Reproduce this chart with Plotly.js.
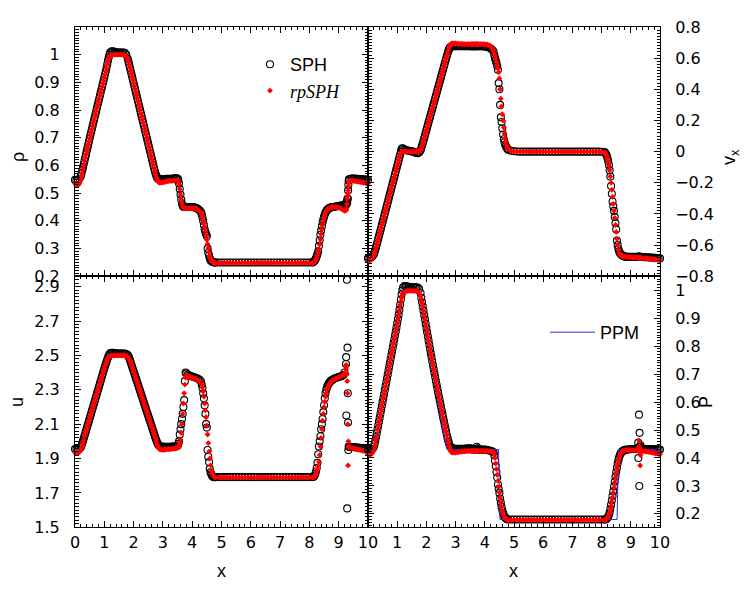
<!DOCTYPE html>
<html>
<head>
<meta charset="utf-8">
<script src="https://cdn.plot.ly/plotly-3.0.1.min.js"></script>
<style>html,body{margin:0;padding:0;background:#fff;}#chart{width:747px;height:592px;}</style>
</head>
<body>
<div id="chart"></div>
<script>
// ---- particle positions (shared by SPH and rpSPH samples) ----
const xPos = [
0,0.05,0.1,0.15,0.2,
0.225,0.25,0.275,0.3,0.325,0.35,0.375,0.4,0.425,0.45,0.475,0.5,0.525,0.55,0.575,0.6,0.625,0.65,0.675,0.7,0.725,0.75,0.775,0.8,0.825,0.85,0.875,0.9,0.925,0.95,0.975,1.0,1.025,1.05,1.075,1.1,1.125,1.15,1.175,1.2,
1.25,1.3,1.35,1.4,1.45,1.5,1.55,1.6,1.65,1.7,1.75,1.8,
1.825,1.85,1.875,1.9,1.925,1.95,1.975,2.0,2.025,2.05,2.075,2.1,2.125,2.15,2.175,2.2,2.225,2.25,2.275,2.3,2.325,2.35,2.375,2.4,2.425,2.45,2.475,2.5,2.525,2.55,2.575,2.6,2.625,2.65,2.675,2.7,2.725,2.75,2.775,2.8,2.825,2.85,2.875,2.9,
2.95,3.0,3.05,3.1,3.15,3.2,3.25,3.3,3.35,3.4,3.45,3.5,
3.525,3.55,3.575,3.6,3.625,3.65,3.675,3.7,3.725,3.75,3.775,3.8,
3.85,3.9,3.95,4.0,4.05,4.1,4.15,4.2,4.25,4.3,
4.325,4.35,4.375,4.4,4.425,4.45,4.475,4.5,4.525,4.55,4.575,4.6,4.625,4.65,4.675,4.7,4.725,4.75,4.775,4.8,
4.9,5.0,5.1,5.2,5.3,5.4,5.5,5.6,5.7,5.8,5.9,6.0,6.1,6.2,6.3,6.4,6.5,6.6,6.7,6.8,6.9,7.0,7.1,7.2,7.3,7.4,7.5,7.6,7.7,7.8,7.9,8.0,8.1,
8.125,8.15,8.175,8.2,8.225,8.25,8.275,8.3,8.325,8.35,8.375,8.4,8.425,8.45,8.475,8.5,8.525,8.55,8.575,8.6,8.625,8.65,8.675,8.7,8.725,8.75,8.775,8.8,
8.85,8.9,8.95,9.0,9.05,9.1,9.15,9.2,9.25,
9.255,9.26,9.28,9.29,9.3,9.31,9.32,9.33,9.34,
9.35,9.4,9.45,9.5,9.55,9.6,9.65,9.7,9.75,9.8,9.85,9.9,9.95,10
];

// ---- density rho ----
const rhoSPH = [
0.548,0.547,0.547,0.552,0.562,
0.572,0.583,0.594,0.605,0.617,0.629,0.64,0.652,0.663,0.675,0.686,0.698,0.709,0.72,0.731,0.742,0.753,0.764,0.775,0.786,0.797,0.808,0.819,0.83,0.841,0.852,0.863,0.874,0.885,0.896,0.907,0.918,0.929,0.94,0.952,0.965,0.978,0.99,1.0,1.008,
1.012,1.012,1.01,1.009,1.008,1.008,1.008,1.008,1.008,1.007,1.0,0.985,
0.975,0.964,0.953,0.942,0.931,0.92,0.909,0.898,0.887,0.876,0.865,0.854,0.843,0.832,0.821,0.81,0.799,0.788,0.777,0.766,0.755,0.744,0.733,0.722,0.711,0.70,0.689,0.678,0.667,0.656,0.645,0.634,0.623,0.612,0.601,0.59,0.58,0.571,0.563,0.557,0.553,0.551,0.55,0.55,
0.55,0.55,0.551,0.552,0.552,0.552,0.552,0.552,0.553,0.554,0.555,0.553,
0.548,0.535,0.515,0.495,0.477,0.463,0.455,0.451,0.45,0.45,0.45,0.45,
0.45,0.45,0.45,0.45,0.449,0.448,0.446,0.443,0.438,0.432,
0.425,0.413,0.40,0.385,0.37,0.36,0.352,0.345,0.30,0.285,0.275,0.265,0.258,0.255,0.253,0.252,0.251,0.25,0.25,0.25,
0.25,0.25,0.25,0.25,0.25,0.25,0.25,0.25,0.25,0.25,0.25,
0.25,0.25,0.25,0.25,0.25,0.25,0.25,0.25,0.25,0.25,0.25,
0.25,0.25,0.25,0.25,0.25,0.25,0.25,0.25,0.25,0.25,0.25,
0.251,0.253,0.256,0.26,0.265,0.272,0.28,0.29,0.31,0.33,0.35,0.365,0.38,0.395,0.405,0.415,0.423,0.43,0.435,0.439,0.442,0.444,0.446,0.447,0.448,0.449,0.45,0.45,
0.451,0.452,0.453,0.454,0.455,0.455,0.456,0.458,0.46,
0.458,0.465,0.47,0.465,0.48,0.48,0.51,0.53,0.545,
0.55,0.552,0.553,0.553,0.553,0.552,0.552,0.551,0.551,0.55,0.55,0.549,0.549,0.548
];
const rhoRP = [
0.535,0.53,0.528,0.535,0.55,
0.562,0.574,0.587,0.6,0.617,0.629,0.64,0.652,0.663,0.675,0.686,0.698,0.709,0.72,0.731,0.742,0.753,0.764,0.775,0.786,0.797,0.808,0.819,0.83,0.841,0.852,0.863,0.874,0.885,0.896,0.907,0.918,0.929,0.94,0.952,0.965,0.975,0.984,0.991,0.995,
0.998,1.0,1.0,1.0,1.0,1.0,1.0,1.0,0.999,0.997,0.992,0.983,
0.974,0.963,0.953,0.942,0.931,0.92,0.909,0.898,0.887,0.876,0.865,0.854,0.843,0.832,0.821,0.81,0.799,0.788,0.777,0.766,0.755,0.744,0.733,0.722,0.711,0.70,0.689,0.678,0.667,0.656,0.645,0.634,0.623,0.612,0.601,0.59,0.578,0.567,0.557,0.549,0.544,0.54,0.538,0.538,
0.538,0.539,0.54,0.542,0.543,0.544,0.545,0.545,0.545,0.546,0.546,0.545,
0.543,0.532,0.515,0.495,0.477,0.462,0.452,0.447,0.445,0.445,0.445,0.445,
0.445,0.445,0.445,0.445,0.445,0.444,0.443,0.44,0.436,0.43,
0.423,0.413,0.402,0.39,0.376,0.362,0.347,0.332,0.317,0.302,0.288,0.275,0.265,0.258,0.254,0.251,0.25,0.249,0.248,0.248,
0.248,0.248,0.248,0.248,0.248,0.248,0.248,0.248,0.248,0.248,0.248,
0.248,0.248,0.248,0.248,0.248,0.248,0.248,0.248,0.248,0.248,0.248,
0.248,0.248,0.248,0.248,0.248,0.248,0.248,0.248,0.248,0.248,0.248,
0.249,0.25,0.252,0.255,0.26,0.266,0.274,0.284,0.298,0.315,0.333,0.352,0.37,0.387,0.401,0.413,0.422,0.429,0.435,0.439,0.442,0.444,0.446,0.447,0.448,0.449,0.45,0.45,
0.45,0.45,0.449,0.448,0.446,0.444,0.44,0.436,0.438,
0.44,0.445,0.46,0.48,0.49,0.50,0.51,0.525,0.54,
0.543,0.545,0.545,0.545,0.544,0.543,0.542,0.541,0.54,0.539,0.538,0.537,0.536,0.535
];

// ---- velocity v_x ----
const vxSPH = [
-0.685,-0.685,-0.68,-0.672,-0.658,
-0.645,-0.63,-0.613,-0.596,-0.578,-0.56,-0.542,-0.524,-0.506,-0.488,-0.47,-0.452,-0.434,-0.416,-0.398,-0.38,-0.362,-0.344,-0.326,-0.308,-0.29,-0.272,-0.254,-0.236,-0.218,-0.2,-0.182,-0.164,-0.146,-0.128,-0.11,-0.092,-0.074,-0.056,-0.038,-0.02,0.0,0.015,0.022,0.02,
0.014,0.01,0.007,0.005,0.003,0.002,0.0,-0.004,-0.008,-0.01,-0.006,0.008,
0.022,0.038,0.054,0.07,0.087,0.104,0.121,0.138,0.155,0.172,0.189,0.206,0.223,0.24,0.257,0.274,0.291,0.308,0.325,0.342,0.359,0.376,0.393,0.41,0.427,0.444,0.461,0.478,0.495,0.512,0.529,0.546,0.563,0.58,0.597,0.614,0.63,0.645,0.657,0.666,0.671,0.674,0.675,0.676,
0.676,0.676,0.676,0.676,0.676,0.676,0.676,0.676,0.676,0.676,0.676,0.676,
0.676,0.676,0.676,0.676,0.676,0.676,0.676,0.676,0.676,0.676,0.676,0.676,
0.676,0.676,0.675,0.675,0.674,0.672,0.668,0.662,0.654,0.642,
0.62,0.60,0.585,0.57,0.55,0.525,0.44,0.40,0.30,0.22,0.19,0.15,0.11,0.08,0.06,0.045,0.035,0.025,0.018,0.012,
0.006,0.003,0.001,
0,0,0,0,0,0,0,0,0,0,0,0,0,0,
0,0,0,0,0,0,0,0,0,0,0,0,0,0,
-0.001,-0.003,
-0.008,-0.015,-0.025,-0.04,-0.06,-0.085,-0.12,-0.16,-0.22,-0.27,-0.32,-0.35,-0.38,-0.42,-0.46,-0.5,-0.57,-0.6,-0.625,-0.64,-0.65,-0.655,-0.66,-0.665,-0.668,-0.67,-0.672,-0.674,
-0.675,-0.675,-0.675,-0.675,-0.675,-0.675,-0.675,-0.675,-0.675,
-0.675,-0.675,-0.675,-0.675,-0.675,-0.675,-0.675,-0.675,-0.675,
-0.676,-0.676,-0.677,-0.677,-0.678,-0.678,-0.679,-0.679,-0.68,-0.681,-0.682,-0.683,-0.684,-0.685
];
const vxRP = [
-0.70,-0.70,-0.695,-0.683,-0.665,
-0.65,-0.633,-0.613,-0.596,-0.578,-0.56,-0.542,-0.524,-0.506,-0.488,-0.47,-0.452,-0.434,-0.416,-0.398,-0.38,-0.362,-0.344,-0.326,-0.308,-0.29,-0.272,-0.254,-0.236,-0.218,-0.2,-0.182,-0.164,-0.146,-0.128,-0.11,-0.092,-0.074,-0.056,-0.036,-0.022,-0.01,-0.004,0.0,0.0,
0,0,0,0,0,0,0,0,0,0,0.002,0.01,
0.022,0.038,0.054,0.07,0.087,0.104,0.121,0.138,0.155,0.172,0.189,0.206,0.223,0.24,0.257,0.274,0.291,0.308,0.325,0.342,0.359,0.376,0.393,0.41,0.427,0.444,0.461,0.478,0.495,0.512,0.529,0.546,0.563,0.58,0.597,0.614,0.63,0.65,0.668,0.68,0.688,0.692,0.694,0.695,
0.695,0.694,0.693,0.692,0.692,0.691,0.691,0.69,0.69,0.69,0.69,0.69,
0.69,0.69,0.69,0.69,0.69,0.69,0.69,0.69,0.69,0.69,0.69,0.69,
0.69,0.69,0.69,0.689,0.688,0.686,0.682,0.675,0.665,0.65,
0.63,0.61,0.595,0.575,0.555,0.535,0.51,0.47,0.40,0.34,0.29,0.24,0.20,0.155,0.115,0.085,0.06,0.04,0.025,0.015,
0.005,0.002,0.0,
0,0,0,0,0,0,0,0,0,0,0,0,0,0,
0,0,0,0,0,0,0,0,0,0,0,0,0,0,
-0.002,-0.004,
-0.01,-0.02,-0.03,-0.045,-0.065,-0.09,-0.12,-0.16,-0.2,-0.245,-0.29,-0.335,-0.38,-0.425,-0.47,-0.515,-0.56,-0.6,-0.63,-0.65,-0.66,-0.665,-0.668,-0.67,-0.671,-0.672,-0.673,-0.674,
-0.675,-0.676,-0.677,-0.677,-0.678,-0.679,-0.68,-0.68,-0.681,
-0.681,-0.681,-0.681,-0.681,-0.681,-0.681,-0.681,-0.681,-0.681,
-0.682,-0.683,-0.684,-0.685,-0.686,-0.687,-0.688,-0.689,-0.69,-0.691,-0.692,-0.693,-0.694,-0.695
];

// ---- internal energy u ----
const uSPH = [
1.955,1.955,1.953,1.957,1.966,
1.977,1.99,2.004,2.018,2.032,2.046,2.06,2.075,2.09,2.104,2.119,2.133,2.148,2.162,2.177,2.191,2.206,2.22,2.235,2.249,2.264,2.278,2.293,2.307,2.322,2.336,2.351,2.365,2.38,2.394,2.409,2.423,2.437,2.45,2.463,2.476,2.488,2.498,2.506,2.512,
2.515,2.515,2.513,2.512,2.511,2.511,2.511,2.511,2.511,2.51,2.508,2.502,
2.495,2.485,2.473,2.46,2.447,2.434,2.421,2.408,2.395,2.382,2.369,2.356,2.343,2.33,2.317,2.304,2.291,2.278,2.265,2.252,2.239,2.226,2.213,2.2,2.187,2.174,2.161,2.148,2.135,2.122,2.109,2.096,2.083,2.07,2.057,2.044,2.031,2.018,2.006,1.995,1.986,1.979,1.974,1.971,
1.97,1.969,1.968,1.968,1.968,1.968,1.968,1.969,1.97,1.97,1.972,1.975,
1.985,2.0,2.04,2.07,2.1,2.13,2.16,2.2,2.24,2.35,2.40,2.395,
2.388,2.383,2.38,2.377,2.374,2.371,2.368,2.364,2.358,2.348,
2.33,2.31,2.28,2.25,2.21,2.16,2.1,2.08,1.95,1.91,1.88,1.84,1.82,1.81,1.80,1.795,1.793,1.792,1.792,1.792,
1.792,1.792,1.792,1.792,1.792,1.792,1.792,1.792,1.792,1.792,1.792,
1.792,1.792,1.792,1.792,1.792,1.792,1.792,1.792,1.792,1.792,1.792,
1.792,1.792,1.792,1.792,1.792,1.792,1.792,1.792,1.792,1.792,1.792,
1.793,1.795,1.80,1.81,1.825,1.845,1.875,1.925,1.97,2.0,2.03,2.07,2.1,2.13,2.17,2.21,2.25,2.28,2.3,2.315,2.325,2.333,2.34,2.345,2.35,2.354,2.357,2.36,
2.365,2.368,2.371,2.374,2.377,2.38,2.385,2.40,2.45,
2.49,2.15,2.94,1.61,2.545,2.28,2.11,1.95,1.97,
1.968,1.968,1.967,1.967,1.966,1.965,1.964,1.963,1.962,1.961,1.96,1.958,1.957,1.956
];
const uRP = [
1.935,1.932,1.932,1.938,1.95,
1.962,1.975,1.99,2.005,2.032,2.046,2.06,2.075,2.09,2.104,2.119,2.133,2.148,2.162,2.177,2.191,2.206,2.22,2.235,2.249,2.264,2.278,2.293,2.307,2.322,2.336,2.351,2.365,2.38,2.394,2.409,2.423,2.437,2.45,2.463,2.476,2.483,2.488,2.492,2.495,
2.497,2.499,2.5,2.5,2.5,2.5,2.5,2.5,2.5,2.499,2.496,2.49,
2.484,2.477,2.473,2.46,2.447,2.434,2.421,2.408,2.395,2.382,2.369,2.356,2.343,2.33,2.317,2.304,2.291,2.278,2.265,2.252,2.239,2.226,2.213,2.2,2.187,2.174,2.161,2.148,2.135,2.122,2.109,2.096,2.083,2.07,2.057,2.044,2.031,2.018,2.0,1.985,1.973,1.963,1.957,1.953,
1.95,1.95,1.951,1.952,1.953,1.954,1.955,1.956,1.957,1.958,1.96,1.962,
1.965,1.975,1.99,2.01,2.05,2.10,2.16,2.22,2.28,2.33,2.37,2.385,
2.38,2.376,2.373,2.37,2.367,2.364,2.36,2.355,2.348,2.338,
2.335,2.315,2.29,2.26,2.22,2.18,2.14,2.09,2.04,1.99,1.94,1.90,1.86,1.83,1.815,1.805,1.8,1.795,1.792,1.79,
1.79,1.79,1.79,1.79,1.79,1.79,1.79,1.79,1.79,1.79,1.79,
1.79,1.79,1.79,1.79,1.79,1.79,1.79,1.79,1.79,1.79,1.79,
1.79,1.79,1.79,1.79,1.79,1.79,1.79,1.79,1.79,1.79,1.79,
1.79,1.792,1.795,1.80,1.81,1.82,1.835,1.855,1.88,1.92,1.97,2.02,2.07,2.12,2.16,2.2,2.23,2.26,2.28,2.3,2.31,2.32,2.33,2.337,2.343,2.348,2.352,2.356,
2.36,2.364,2.368,2.372,2.376,2.38,2.386,2.396,2.42,
2.445,2.44,2.39,2.35,2.28,2.1,1.86,2.0,1.97,
1.965,1.963,1.961,1.959,1.957,1.955,1.953,1.951,1.949,1.947,1.945,1.943,1.94,1.937
];

// ---- pressure P ----
const pSPH = [
0.43,0.43,0.43,0.432,0.44,
0.45,0.462,0.475,0.488,0.502,0.516,0.53,0.544,0.558,0.572,0.586,0.6,0.614,0.628,0.642,0.656,0.67,0.684,0.698,0.712,0.726,0.74,0.754,0.768,0.782,0.796,0.81,0.824,0.838,0.852,0.867,0.882,0.897,0.913,0.93,0.948,0.967,0.985,1.0,1.01,
1.015,1.015,1.013,1.012,1.011,1.011,1.011,1.011,1.011,1.01,1.005,0.99,
0.973,0.958,0.943,0.927,0.911,0.896,0.88,0.865,0.85,0.835,0.82,0.805,0.79,0.775,0.761,0.746,0.732,0.718,0.704,0.69,0.676,0.662,0.649,0.635,0.622,0.609,0.596,0.583,0.57,0.557,0.544,0.532,0.519,0.507,0.495,0.482,0.471,0.461,0.452,0.444,0.439,0.436,0.434,0.434,
0.434,0.433,0.433,0.433,0.433,0.433,0.433,0.433,0.434,0.434,0.435,0.435,
0.434,0.433,0.432,0.431,0.43,0.43,0.43,0.432,0.44,0.435,0.43,0.43,
0.43,0.43,0.43,0.43,0.429,0.428,0.427,0.426,0.424,0.42,
0.41,0.39,0.37,0.35,0.33,0.305,0.29,0.275,0.255,0.24,0.225,0.212,0.203,0.196,0.19,0.186,0.184,0.182,0.181,0.18,
0.18,0.18,0.18,0.18,0.18,0.18,0.18,0.18,0.18,0.18,0.18,
0.18,0.18,0.18,0.18,0.18,0.18,0.18,0.18,0.18,0.18,0.18,
0.18,0.18,0.18,0.18,0.18,0.18,0.18,0.18,0.18,0.18,0.18,
0.18,0.181,0.183,0.186,0.19,0.196,0.205,0.218,0.233,0.248,0.264,0.28,0.298,0.315,0.333,0.35,0.365,0.38,0.392,0.402,0.41,0.416,0.42,0.423,0.425,0.427,0.428,0.429,
0.43,0.43,0.431,0.431,0.432,0.432,0.433,0.434,0.435,
0.455,0.40,0.555,0.30,0.49,0.44,0.43,0.445,0.435,
0.433,0.433,0.433,0.433,0.432,0.432,0.432,0.432,0.431,0.431,0.431,0.431,0.43,0.43
];
const pRP = [
0.413,0.412,0.413,0.418,0.428,
0.44,0.452,0.466,0.48,0.502,0.516,0.53,0.544,0.558,0.572,0.586,0.6,0.614,0.628,0.642,0.656,0.67,0.684,0.698,0.712,0.726,0.74,0.754,0.768,0.782,0.796,0.81,0.824,0.838,0.852,0.867,0.882,0.897,0.913,0.93,0.948,0.96,0.973,0.982,0.988,
0.993,0.996,0.998,0.998,0.998,0.998,0.998,0.998,0.997,0.995,0.99,0.98,
0.968,0.956,0.943,0.927,0.911,0.896,0.88,0.865,0.85,0.835,0.82,0.805,0.79,0.775,0.761,0.746,0.732,0.718,0.704,0.69,0.676,0.662,0.649,0.635,0.622,0.609,0.596,0.583,0.57,0.557,0.544,0.532,0.519,0.507,0.495,0.482,0.468,0.455,0.443,0.434,0.427,0.422,0.42,0.419,
0.419,0.419,0.42,0.421,0.422,0.423,0.423,0.424,0.424,0.425,0.425,0.425,
0.425,0.425,0.425,0.425,0.425,0.425,0.425,0.425,0.425,0.425,0.425,0.425,
0.425,0.425,0.425,0.425,0.425,0.425,0.424,0.423,0.422,0.42,
0.415,0.40,0.38,0.36,0.34,0.318,0.296,0.276,0.257,0.24,0.224,0.21,0.2,0.193,0.188,0.184,0.182,0.18,0.179,0.178,
0.178,0.178,0.178,0.178,0.178,0.178,0.178,0.178,0.178,0.178,0.178,
0.178,0.178,0.178,0.178,0.178,0.178,0.178,0.178,0.178,0.178,0.178,
0.178,0.178,0.178,0.178,0.178,0.178,0.178,0.178,0.178,0.178,0.178,
0.179,0.18,0.182,0.185,0.19,0.196,0.204,0.215,0.228,0.243,0.259,0.276,0.294,0.312,0.33,0.347,0.363,0.378,0.39,0.4,0.408,0.414,0.418,0.421,0.424,0.426,0.427,0.428,
0.428,0.428,0.428,0.428,0.428,0.428,0.428,0.429,0.43,
0.43,0.435,0.44,0.462,0.44,0.42,0.373,0.41,0.425,
0.425,0.425,0.424,0.424,0.423,0.422,0.421,0.42,0.419,0.418,0.417,0.416,0.415,0.413
];

// ---- PPM reference solution (pressure) ----
const xPPM = [0, 0.22, 0.3, 1.15, 1.2, 1.7, 1.78, 2.65, 2.72, 4.47, 4.52, 8.53, 8.58, 10];
const pPPM = [0.43, 0.43, 0.475, 0.99, 1.0, 1.0, 0.975, 0.455, 0.43, 0.43, 0.18, 0.18, 0.43, 0.43];

// ---- tick labels ----
const xTickValsLeft = [0,1,2,3,4,5,6,7,8,9,10];
const xTickValsRight = [1,2,3,4,5,6,7,8,9,10];

const FONT = 'DejaVu Sans, Liberation Sans, Arial, sans-serif';
const LFONT = 'Liberation Sans, Arial, sans-serif';

const sphMarker = {symbol:'circle-open', size:7, color:'#000000', line:{width:1.1, color:'#000000'}};
const rpMarker = {symbol:'diamond', size:4.5, color:'#ff0000', line:{width:0}};

function sph(y, xa, ya, show) {
  return {x:xPos, y:y, xaxis:xa, yaxis:ya, type:'scatter', mode:'markers', name:'SPH',
    marker:sphMarker, showlegend:show, legend:'legend', cliponaxis:false, hoverinfo:'skip'};
}
function rp(y, xa, ya, show) {
  return {x:xPos, y:y, xaxis:xa, yaxis:ya, type:'scatter', mode:'markers',
    name:'<span style="font-family:Liberation Serif, Times New Roman, serif;font-style:italic">rpSPH</span>',
    marker:rpMarker, showlegend:show, legend:'legend', cliponaxis:false, hoverinfo:'skip'};
}
// invisible helper traces that only attach the minor-tick overlay axes
function helper(y, xa, ya) {
  return {x:xPos, y:y, xaxis:xa, yaxis:ya, type:'scatter', mode:'markers', marker:{opacity:0, size:1},
    showlegend:false, hoverinfo:'skip'};
}

const data = [
  helper(rhoSPH,'x5','y5'), helper(vxSPH,'x6','y6'), helper(uSPH,'x7','y7'), helper(pSPH,'x8','y8'),
  sph(rhoSPH,'x','y',true), rp(rhoRP,'x','y',true),
  sph(vxSPH,'x2','y2',false), rp(vxRP,'x2','y2',false),
  sph(uSPH,'x3','y3',false), rp(uRP,'x3','y3',false),
  sph(pSPH,'x4','y4',false),
  {x:xPPM, y:pPPM, xaxis:'x4', yaxis:'y4', type:'scatter', mode:'lines', name:'PPM',
   line:{color:'#2b2bf0', width:1}, showlegend:true, legend:'legend2', hoverinfo:'skip'},
  rp(pRP,'x4','y4',false)
];

const DXL = [75/747, 368/747], DXR = [368/747, 660/747];
const DYT = [1-276.3/592, 1-27/592], DYB = [1-527.3/592, 1-276.3/592];

function xaxis(domain, anchor, labels, vals) {
  return {domain:domain, anchor:anchor, range:[0,10], tickmode:'array', tickvals:vals,
    ticks:'inside', ticklen:6, tickwidth:1, tickcolor:'#000',
    showline:true, linecolor:'#000', linewidth:1, mirror:'allticks', showgrid:false, zeroline:false,
    showticklabels:labels, tickfont:{family:FONT, size:16, color:'#000'}, ticklabelstandoff:0};
}
function yaxis(domain, anchor, range, tick0, dtick, side) {
  return {domain:domain, anchor:anchor, range:range, tick0:tick0, dtick:dtick, side:side,
    ticks:'inside', ticklen:6, tickwidth:1, tickcolor:'#000',
    showline:true, linecolor:'#000', linewidth:1, mirror:'allticks', showgrid:false, zeroline:false,
    tickfont:{family:FONT, size:16, color:'#000'}, ticklabelstandoff:11};
}
// overlay axes that only carry the small (minor) ticks
function xminor(domain, over, anchor) {
  return {domain:domain, overlaying:over, anchor:anchor, range:[0,10], tick0:0, dtick:0.2, ticks:'inside', ticklen:3,
    tickwidth:1, tickcolor:'#000', mirror:'allticks', showline:false, showgrid:false, zeroline:false,
    showticklabels:false};
}
function yminor(domain, over, anchor, range, tick0, dtick, side) {
  return {domain:domain, overlaying:over, anchor:anchor, range:range, tick0:tick0, dtick:dtick, side:side, ticks:'inside',
    ticklen:3.5, tickwidth:1, tickcolor:'#000', mirror:'allticks', showline:false, showgrid:false,
    zeroline:false, showticklabels:false};
}

const layout = {
  width:747, height:592, margin:{l:0, r:0, t:0, b:0}, paper_bgcolor:'#fff', plot_bgcolor:'rgba(0,0,0,0)',
  showlegend:true,
  xaxis: xaxis(DXL,'y',false,xTickValsLeft),
  yaxis: yaxis(DYT,'x',[0.2,1.0999],0.2,0.1,'left'),
  xaxis2: xaxis(DXR,'y2',false,xTickValsRight),
  yaxis2: yaxis(DYT,'x2',[-0.8,0.8],-0.8,0.2,'right'),
  xaxis3: xaxis(DXL,'y3',true,xTickValsLeft),
  yaxis3: yaxis(DYB,'x3',[1.5,2.96],1.5,0.2,'left'),
  xaxis4: xaxis(DXR,'y4',true,xTickValsRight),
  yaxis4: yaxis(DYB,'x4',[0.152,1.05],0.2,0.1,'right'),
  xaxis5: xminor(DXL,'x','y5'),
  xaxis6: xminor(DXR,'x2','y6'),
  xaxis7: xminor(DXL,'x3','y7'),
  xaxis8: xminor(DXR,'x4','y8'),
  yaxis5: yminor(DYT,'y','x5',[0.2,1.0999],0.2,0.01,'left'),
  yaxis6: yminor(DYT,'y2','x6',[-0.8,0.8],-0.8,0.02,'right'),
  yaxis7: yminor(DYB,'y3','x7',[1.5,2.96],1.5,0.02,'left'),
  yaxis8: yminor(DYB,'y4','x8',[0.152,1.05],0.2,0.01,'right'),
  legend:{x:250/747, y:1-46/592, xanchor:'left', yanchor:'top', bgcolor:'rgba(0,0,0,0)', borderwidth:0,
    font:{family:LFONT, size:18, color:'#000'}, tracegroupgap:0, itemclick:false},
  legend2:{x:545/747, y:1-314/592, xanchor:'left', yanchor:'top', bgcolor:'rgba(0,0,0,0)', borderwidth:0,
    font:{family:LFONT, size:18, color:'#000'}, itemwidth:45, itemclick:false},
  annotations:[
    {text:'ρ', xref:'paper', yref:'paper', x:18/747, y:1-157/592, xanchor:'center', yanchor:'middle',
     showarrow:false, textangle:-90, font:{family:LFONT, size:18, color:'#000'}},
    {text:'u', xref:'paper', yref:'paper', x:17/747, y:1-402/592, xanchor:'center', yanchor:'middle',
     showarrow:false, textangle:-90, font:{family:LFONT, size:18, color:'#000'}},
    {text:'v<sub>x</sub>', xref:'paper', yref:'paper', x:731/747, y:1-157/592, xanchor:'center', yanchor:'middle',
     showarrow:false, textangle:-90, font:{family:LFONT, size:18, color:'#000'}},
    {text:'P', xref:'paper', yref:'paper', x:706/747, y:1-402/592, xanchor:'center', yanchor:'middle',
     showarrow:false, textangle:-90, font:{family:LFONT, size:18, color:'#000'}},
    {text:'x', xref:'paper', yref:'paper', x:222/747, y:1-571/592, xanchor:'center', yanchor:'middle',
     showarrow:false, font:{family:LFONT, size:18, color:'#000'}},
    {text:'x', xref:'paper', yref:'paper', x:513/747, y:1-571/592, xanchor:'center', yanchor:'middle',
     showarrow:false, font:{family:LFONT, size:18, color:'#000'}}
  ]
};

Plotly.newPlot('chart', data, layout, {staticPlot:true, displayModeBar:false});
</script>
</body>
</html>
